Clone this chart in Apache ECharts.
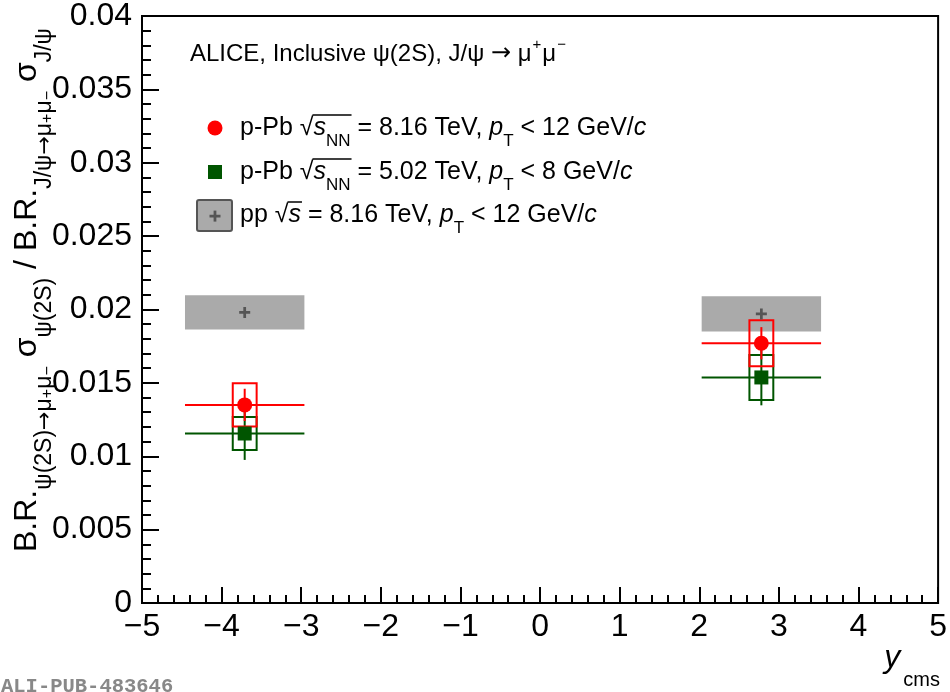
<!DOCTYPE html>
<html>
<head>
<meta charset="utf-8">
<script src="https://cdn.jsdelivr.net/npm/echarts@6/dist/echarts.min.js"></script>
<style>
html, body { margin: 0; padding: 0; background: #fff; }
#main { width: 950px; height: 692px; }
</style>
</head>
<body>
<div id="main"></div>
<script>
// rapidity bins (y_cms)
var rapidity = [-3.71, 2.78];
var binLow = [-4.46, 2.03];
var binHigh = [-2.96, 3.53];

// pp 8.16 TeV reference (band = syst.)
var ppRatio = [0.0198, 0.0197];
var ppSys = [0.00117, 0.0012];

// p-Pb 8.16 TeV
var pPb816Ratio = [0.0135, 0.0177];
var pPb816Stat = [0.0011, 0.0011];
var pPb816Sys = [0.00147, 0.00157];

// p-Pb 5.02 TeV
var pPb502Ratio = [0.01155, 0.01537];
var pPb502Stat = [0.0018, 0.0019];
var pPb502Sys = [0.00112, 0.00153];

var boxHalfWidth = 0.15;

var FONT = '"Liberation Sans", Arial, Helvetica, sans-serif';
var ARROWFONT = '"DejaVu Sans", sans-serif';
var RED = '#ff0000';
var GREEN = '#005500';
var GRAY = '#aaaaaa';
var DARKGRAY = '#555555';

var plusPath = 'path://M3.75,0H6.25V3.75H10V6.25H6.25V10H3.75V6.25H0V3.75H3.75Z';

var ppData = rapidity.map(function (x, i) {
    return [x, binLow[i], binHigh[i], ppRatio[i], ppSys[i]];
});
function pointData(val, stat, sys) {
    return rapidity.map(function (x, i) {
        return [x, val[i], stat[i], sys[i], binLow[i], binHigh[i]];
    });
}
var data816 = pointData(pPb816Ratio, pPb816Stat, pPb816Sys);
var data502 = pointData(pPb502Ratio, pPb502Stat, pPb502Sys);

function renderBand(params, api) {
    var p0 = api.coord([api.value(1), api.value(3) + api.value(4)]);
    var p1 = api.coord([api.value(2), api.value(3) - api.value(4)]);
    return {
        type: 'rect',
        shape: { x: p0[0], y: p0[1], width: p1[0] - p0[0], height: p1[1] - p0[1] },
        style: { fill: GRAY }
    };
}

function makeRender(color) {
    return function (params, api) {
        var x = api.value(0), y = api.value(1), stat = api.value(2), sys = api.value(3);
        var a = api.coord([api.value(4), y]), b = api.coord([api.value(5), y]);
        var s0 = api.coord([x, y + stat]), s1 = api.coord([x, y - stat]);
        var b0 = api.coord([x - boxHalfWidth, y + sys]), b1 = api.coord([x + boxHalfWidth, y - sys]);
        var st = { stroke: color, lineWidth: 2, fill: 'none' };
        return {
            type: 'group',
            children: [
                { type: 'line', shape: { x1: a[0], y1: a[1], x2: b[0], y2: b[1] }, style: st },
                { type: 'line', shape: { x1: s0[0], y1: s0[1], x2: s1[0], y2: s1[1] }, style: st },
                { type: 'rect', shape: { x: b0[0], y: b0[1], width: b1[0] - b0[0], height: b1[1] - b0[1] }, style: st }
            ]
        };
    };
}

// text width helper for the sqrt overlines
var measureCtx = document.createElement('canvas').getContext('2d');
function textWidth(txt, size, italic) {
    measureCtx.font = (italic ? 'italic ' : '') + size + 'px ' + FONT;
    return measureCtx.measureText(txt).width;
}

var legendRich = {
    t: { fontSize: 25, fontFamily: FONT, color: '#000', lineHeight: 44, verticalAlign: 'middle' },
    i: { fontSize: 25, fontFamily: FONT, fontStyle: 'italic', color: '#000', lineHeight: 44, verticalAlign: 'middle' },
    n: { fontSize: 17, fontFamily: FONT, color: '#000', lineHeight: 28, verticalAlign: 'bottom' },
    p: { fontSize: 17, fontFamily: FONT, color: '#000', lineHeight: 18, verticalAlign: 'bottom' }
};
var legendX = 240;
var legendRows = [128, 172, 215];

function overline(x1, x2, y) {
    return { type: 'line', shape: { x1: x1, y1: y, x2: x2, y2: y }, style: { stroke: '#000', lineWidth: 1.5 } };
}
var sq1 = legendX + textWidth('p-Pb ', 25) + textWidth('\u221a', 25) - 1;
var sq1End = sq1 + textWidth('s', 25, true) + textWidth('NN', 17) + 2;
var sq3 = legendX + textWidth('pp ', 25) + textWidth('\u221a', 25) - 1;
var sq3End = sq3 + textWidth('s', 25, true) + 2;

var myChart = echarts.init(document.getElementById('main'));
var option = {
    animation: false,
    backgroundColor: '#fff',
    grid: {
        left: 142, right: 10, top: 13, bottom: 89,
        show: true, borderColor: '#000', borderWidth: 2, backgroundColor: 'transparent'
    },
    xAxis: {
        type: 'value', min: -5, max: 5, interval: 1,
        axisLine: { show: true, onZero: false, lineStyle: { color: '#000', width: 2 } },
        axisTick: { show: true, inside: true, length: 16, lineStyle: { color: '#000', width: 2 } },
        minorTick: { show: true, splitNumber: 5, length: 8, lineStyle: { color: '#000', width: 2 } },
        splitLine: { show: false },
        axisLabel: {
            fontSize: 32, fontFamily: FONT, color: '#000', margin: 8,
            formatter: function (v) { return String(v).replace('-', '\u2212'); }
        }
    },
    yAxis: {
        type: 'value', min: 0, max: 0.04, interval: 0.005,
        axisLine: { show: true, onZero: false, lineStyle: { color: '#000', width: 2 } },
        axisTick: { show: true, inside: true, length: 17, lineStyle: { color: '#000', width: 2 } },
        minorTick: { show: true, splitNumber: 5, length: 9, lineStyle: { color: '#000', width: 2 } },
        splitLine: { show: false },
        axisLabel: {
            fontSize: 32, fontFamily: FONT, color: '#000', margin: 10,
            formatter: function (v) { return String(+v.toFixed(3)); }
        }
    },
    series: [
        { name: 'pp band', type: 'custom', renderItem: renderBand, data: ppData, encode: { x: [1, 2], y: 3 }, z: 2 },
        { name: 'p-Pb 5.02', type: 'custom', renderItem: makeRender(GREEN), data: data502, encode: { x: [4, 5], y: 1 }, z: 3 },
        { name: 'p-Pb 8.16', type: 'custom', renderItem: makeRender(RED), data: data816, encode: { x: [4, 5], y: 1 }, z: 4 },
        {
            name: 'p-Pb 5.02 pts', type: 'scatter', symbol: 'rect', symbolSize: 14, z: 5,
            itemStyle: { color: GREEN, opacity: 1 },
            data: rapidity.map(function (x, i) { return [x, pPb502Ratio[i]]; })
        },
        {
            name: 'p-Pb 8.16 pts', type: 'scatter', symbol: 'circle', symbolSize: 15, z: 6,
            itemStyle: { color: RED, opacity: 1 },
            data: rapidity.map(function (x, i) { return [x, pPb816Ratio[i]]; })
        },
        {
            name: 'pp pts', type: 'scatter', symbol: plusPath, symbolSize: 11, z: 7,
            itemStyle: { color: DARKGRAY, opacity: 1 },
            data: rapidity.map(function (x, i) { return [x, ppRatio[i]]; })
        }
    ],
    graphic: [
        {
            type: 'text', left: 190, top: 37, z: 10,
            style: {
                text: '{t|ALICE, Inclusive \u03c8(2S), J/\u03c8 }{a|\u2192}{t| \u03bc}{s|+}{t|\u03bc}{s|\u2212}',
                rich: {
                    t: { fontSize: 24, fontFamily: FONT, color: '#000', lineHeight: 34, verticalAlign: 'middle' },
                    a: { fontSize: 24, fontFamily: ARROWFONT, color: '#000', lineHeight: 34, verticalAlign: 'middle' },
                    s: { fontSize: 15, fontFamily: FONT, color: '#000', lineHeight: 16, verticalAlign: 'top', padding: [0, 1, 0, 1] }
                }
            }
        },
        // legend markers
        { type: 'circle', shape: { cx: 215, cy: legendRows[0], r: 7.5 }, style: { fill: RED }, z: 10 },
        { type: 'rect', shape: { x: 208, y: legendRows[1] - 7, width: 14, height: 14 }, style: { fill: GREEN }, z: 10 },
        { type: 'rect', shape: { x: 197, y: legendRows[2] - 15, width: 35, height: 31, r: 2 }, style: { fill: GRAY, stroke: DARKGRAY, lineWidth: 2 }, z: 10 },
        { type: 'rect', shape: { x: 209.5, y: legendRows[2] - 0.25, width: 11, height: 2.75 }, style: { fill: DARKGRAY }, z: 11 },
        { type: 'rect', shape: { x: 213.6, y: legendRows[2] - 4.4, width: 2.75, height: 11 }, style: { fill: DARKGRAY }, z: 11 },
        // legend texts
        {
            type: 'text', x: legendX, y: legendRows[0], z: 10,
            style: {
                text: '{t|p-Pb \u221a}{i|s}{n|NN}{t| = 8.16 TeV, }{i|p}{p|T}{t| < 12 GeV/}{i|c}',
                rich: legendRich, verticalAlign: 'middle'
            }
        },
        {
            type: 'text', x: legendX, y: legendRows[1], z: 10,
            style: {
                text: '{t|p-Pb \u221a}{i|s}{n|NN}{t| = 5.02 TeV, }{i|p}{p|T}{t| < 8 GeV/}{i|c}',
                rich: legendRich, verticalAlign: 'middle'
            }
        },
        {
            type: 'text', x: legendX, y: legendRows[2], z: 10,
            style: {
                text: '{t|pp \u221a}{i|s}{t| = 8.16 TeV, }{i|p}{p|T}{t| < 12 GeV/}{i|c}',
                rich: legendRich, verticalAlign: 'middle'
            }
        },
        overline(sq1, sq1End, legendRows[0] - 13),
        overline(sq1, sq1End, legendRows[1] - 13),
        overline(sq3, sq3End, legendRows[2] - 13),
        // y axis title
        {
            type: 'text', x: 27, y: 290, rotation: Math.PI / 2, z: 10,
            style: {
                text: '{m|B.R.}{s|\u03c8(2S)}{sa|\u2192}{s|\u03bc}{u|+}{s|\u03bc}{u|\u2212}{m| \u03c3}{s|\u03c8(2S)}{m| / B.R.}{s|J/\u03c8}{sa|\u2192}{s|\u03bc}{u|+}{s|\u03bc}{u|\u2212}{m| \u03c3}{s|J/\u03c8}',
                align: 'center', verticalAlign: 'middle',
                rich: {
                    m: { fontSize: 32, fontFamily: FONT, color: '#000', lineHeight: 58, verticalAlign: 'middle' },
                    s: { fontSize: 23, fontFamily: FONT, color: '#000', lineHeight: 30, verticalAlign: 'bottom' },
                    sa: { fontSize: 22, fontFamily: ARROWFONT, color: '#000', lineHeight: 30, verticalAlign: 'bottom' },
                    u: { fontSize: 16, fontFamily: FONT, color: '#000', lineHeight: 50, verticalAlign: 'bottom' }
                }
            }
        },
        // x axis title
        {
            type: 'text', x: 940, y: 658, z: 10,
            style: {
                text: '{y|y}{c|cms}',
                align: 'right', verticalAlign: 'middle',
                rich: {
                    y: { fontSize: 32, fontFamily: FONT, fontStyle: 'italic', color: '#000', lineHeight: 64, verticalAlign: 'middle', padding: [0, 3, 0, 0] },
                    c: { fontSize: 20, fontFamily: FONT, color: '#000', lineHeight: 12, verticalAlign: 'bottom' }
                }
            }
        },
        {
            type: 'text', left: 1, top: 676, z: 10,
            style: {
                text: 'ALI-PUB-483646',
                fontSize: 20.5, fontWeight: 'bold', fontFamily: '"Liberation Mono", "DejaVu Sans Mono", monospace',
                fill: '#888888'
            }
        }
    ]
};
myChart.setOption(option);
</script>
</body>
</html>
